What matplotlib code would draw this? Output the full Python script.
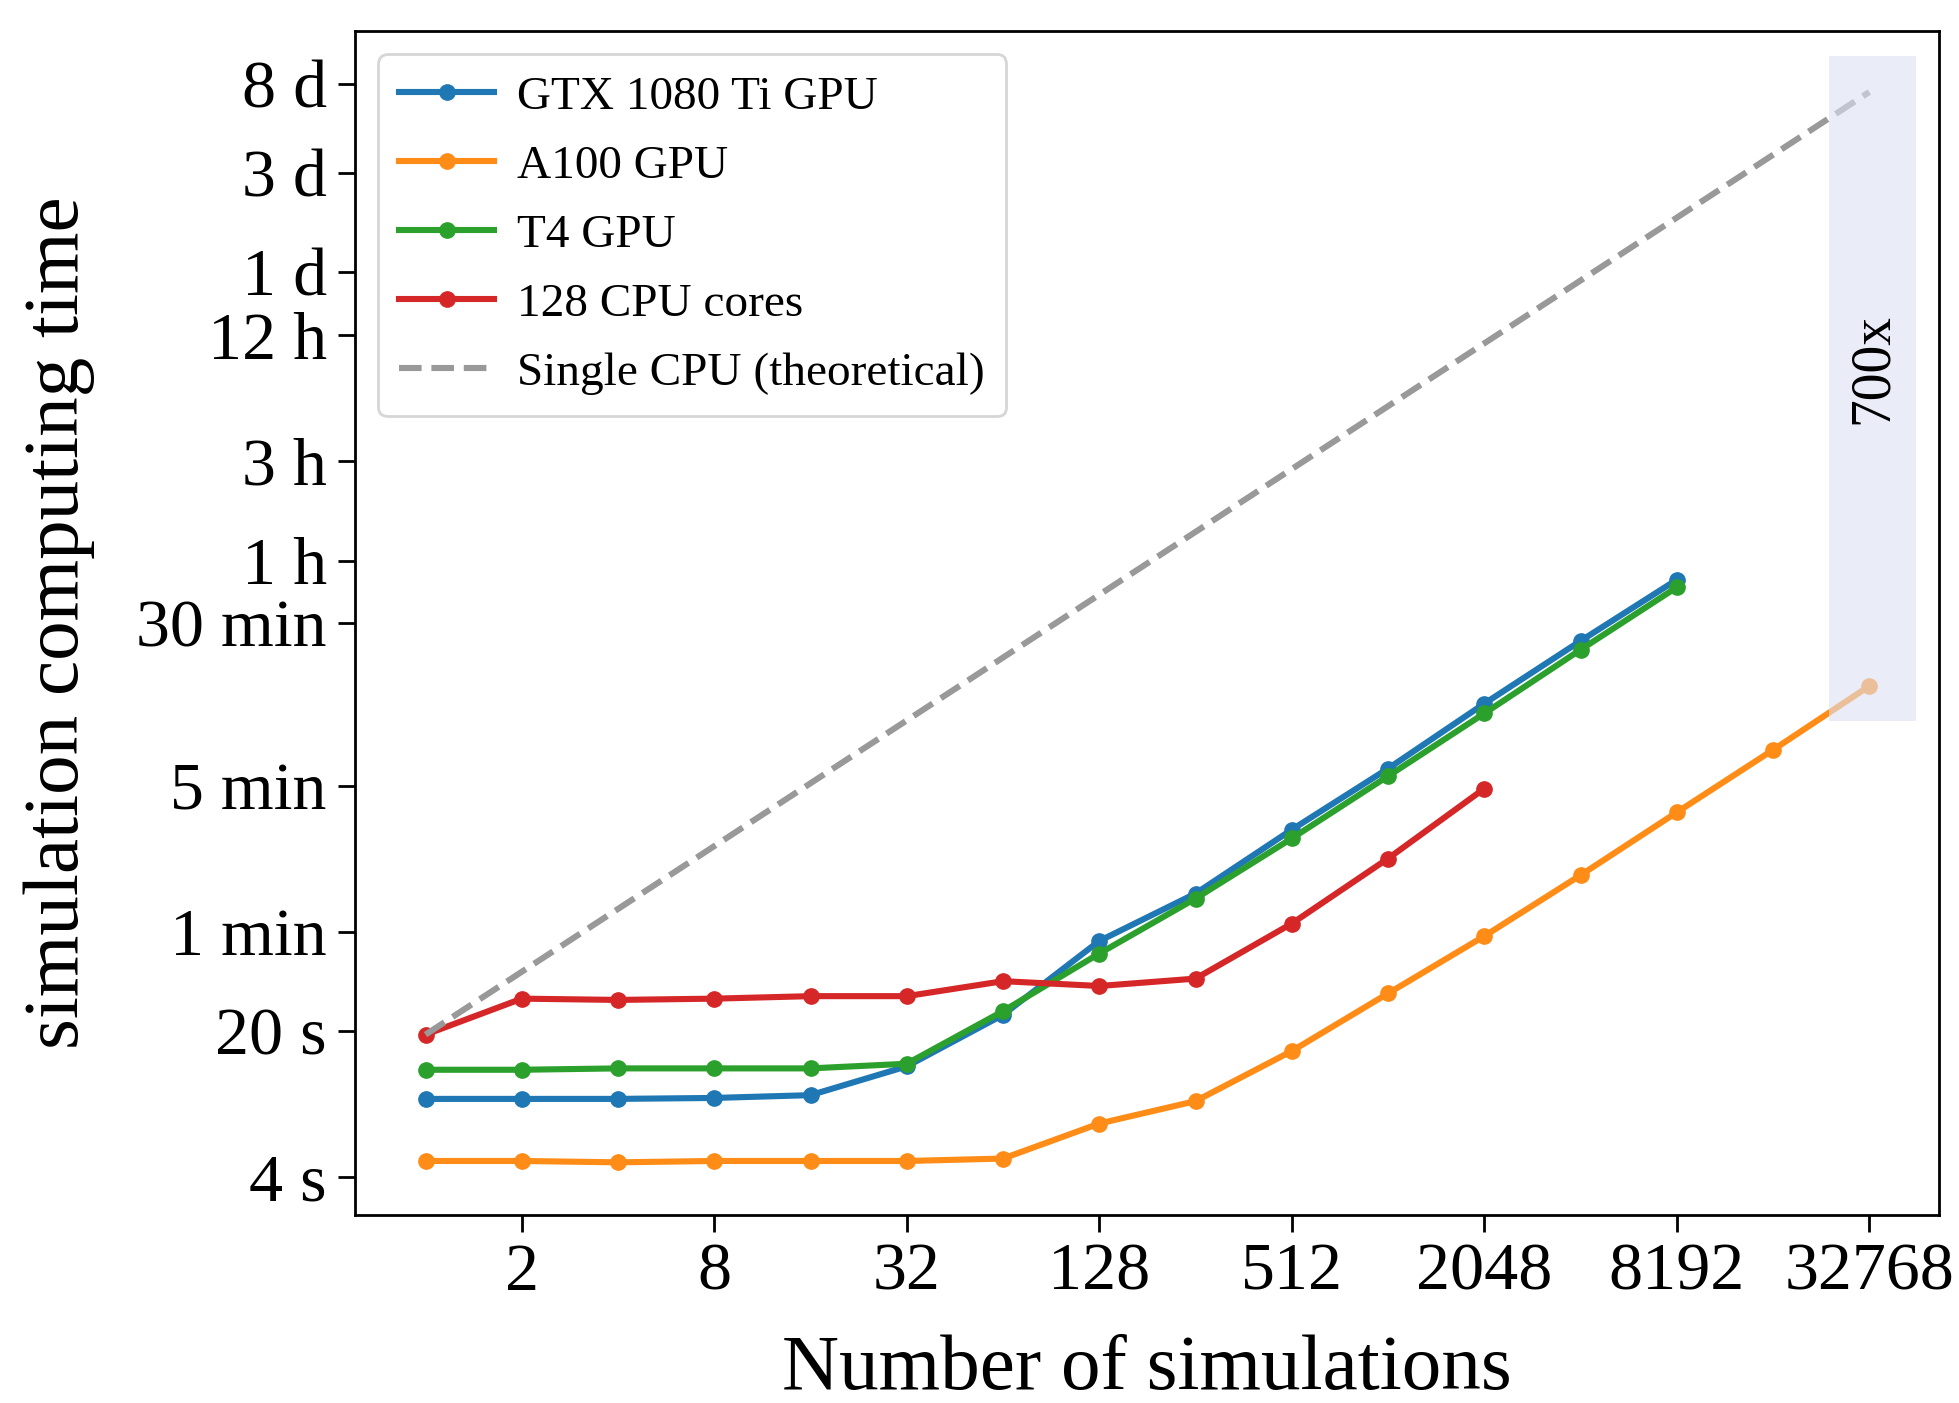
import matplotlib
matplotlib.use("Agg")
import matplotlib.pyplot as plt
from matplotlib.ticker import FixedLocator, FixedFormatter, NullLocator

plt.rcParams['font.family'] = ['Liberation Serif', 'DejaVu Serif']

# Data
n_sims = [1, 2, 4, 8, 16, 32, 64, 128, 256, 512, 1024, 2048, 4096, 8192, 16384, 32768]
gtx_1080ti = [9.5, 9.5, 9.5, 9.6, 9.9, 13.6, 24.0, 54.2, 91.5, 185, 363, 743, 1483, 2913]
a100 = [4.79, 4.79, 4.72, 4.79, 4.79, 4.79, 4.92, 7.24, 9.27, 16.1, 30.4, 57.2, 112, 224, 446, 902]
t4 = [13.1, 13.1, 13.3, 13.3, 13.3, 14.0, 25.0, 47.2, 86.6, 168, 334, 667, 1346, 2680]
cpu128 = [19.3, 28.7, 28.3, 28.7, 29.5, 29.5, 34.8, 33.0, 35.8, 65.7, 134.6, 291]
single_x = [1, 32768]
single_cpu = [19.3, 632000]

ytick_vals = [4, 20, 60, 300, 1800, 3600, 10800, 43200, 86400, 259200, 691200]
ytick_labels = ["4 s", "20 s", "1 min", "5 min", "30 min", "1 h", "3 h", "12 h", "1 d", "3 d", "8 d"]
xtick_vals = [2, 8, 32, 128, 512, 2048, 8192, 32768]
xtick_labels = ["2", "8", "32", "128", "512", "2048", "8192", "32768"]

span_x = [24500, 46000]
span_y = [614, 940000]
speedup_label = "700x"
speedup_label_y = 30000

fig = plt.figure(figsize=(19.59, 14.03), dpi=100)
ax = fig.add_axes([0.181, 0.134, 0.809, 0.844])

lw = 4.4
ms = 11
ax.plot(n_sims[:len(gtx_1080ti)], gtx_1080ti, '-o', color='#1f77b4', lw=lw, ms=ms, label='GTX 1080 Ti GPU')
ax.plot(n_sims[:len(a100)], a100, '-o', color='#ff8c16', lw=lw, ms=ms, label='A100 GPU')
ax.plot(n_sims[:len(t4)], t4, '-o', color='#2ca02c', lw=lw, ms=ms, label='T4 GPU')
ax.plot(n_sims[:len(cpu128)], cpu128, '-o', color='#d62728', lw=lw, ms=ms, label='128 CPU cores')
ax.plot(single_x, single_cpu, '--', color='#999999', lw=lw, label='Single CPU (theoretical)')

ax.fill_between(span_x, [span_y[0]] * 2, [span_y[1]] * 2, color='#dde2f2', alpha=0.6, lw=0, zorder=5)
ax.text((span_x[0] * span_x[1]) ** 0.5, speedup_label_y, speedup_label, rotation=90, ha='center', va='center',
        fontsize=40, zorder=6)

ax.set_xscale('log', base=2)
ax.set_yscale('log')
ax.set_xlim(0.6, 54300)
ax.set_ylim(2.64, 1.24e6)

ax.xaxis.set_major_locator(FixedLocator(xtick_vals))
ax.xaxis.set_major_formatter(FixedFormatter(xtick_labels))
ax.xaxis.set_minor_locator(NullLocator())
ax.yaxis.set_major_locator(FixedLocator(ytick_vals))
ax.yaxis.set_major_formatter(FixedFormatter(ytick_labels))
ax.yaxis.set_minor_locator(NullLocator())

ax.tick_params(axis='both', which='major', labelsize=49, length=12, width=2, direction='out', pad=8)
for s in ax.spines.values():
    s.set_linewidth(2)

ax.set_xlabel('Number of simulations', fontsize=57, labelpad=22)
ax.set_ylabel('simulation computing time', fontsize=57, labelpad=30)

leg = ax.legend(loc='upper left', fontsize=34, handlelength=2.0, borderpad=0.45, labelspacing=0.55,
                handletextpad=0.5, framealpha=0.8, fancybox=True)
leg.get_frame().set_linewidth(2)

fig.savefig('out.png', dpi=100)
